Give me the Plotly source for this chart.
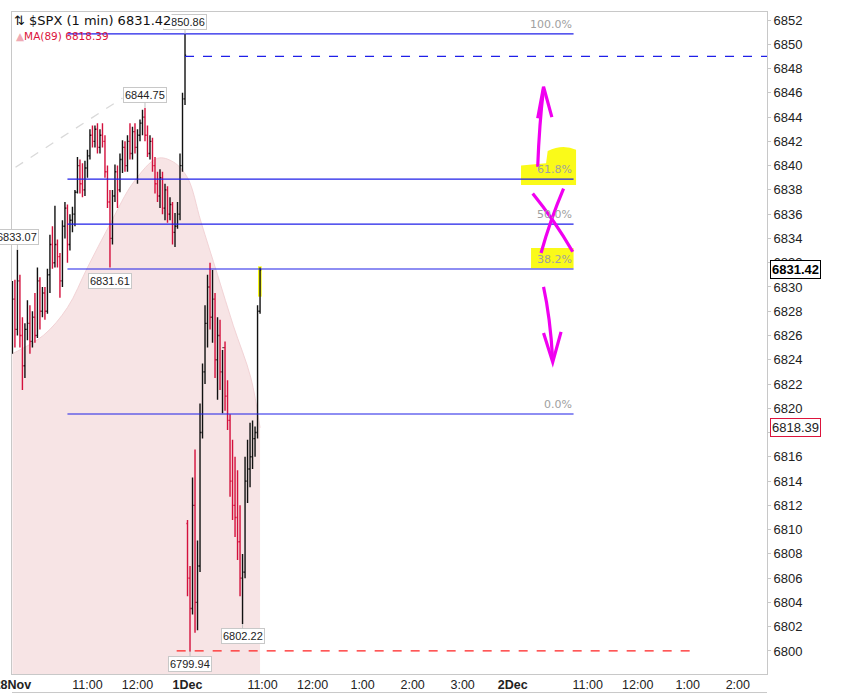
import plotly.graph_objects as go

# ---------------- data ----------------
# x axis = session minutes: 28Nov 9:30 -> 0 (half day to 13:00), 1Dec 9:30 -> 210, 2Dec 9:30 -> 600
nov28_minutes = list(range(0, 210, 3))
nov28_open = [6826.5, 6829, 6826.5, 6830.5, 6826, 6823.5, 6826.5, 6827, 6825.5, 6827.5,
              6826, 6830.5, 6828, 6829.5, 6828, 6831, 6833.5, 6832, 6833.5, 6832.5,
              6830.5, 6835, 6836.5, 6833.5, 6835.5, 6836, 6837.8, 6840, 6838.5, 6838,
              6839.8, 6840.8, 6842.5, 6842, 6843, 6841.5, 6842.5, 6842, 6839.5, 6837,
              6834, 6837.5, 6839.5, 6838, 6840.5, 6841.5, 6840, 6842, 6841, 6842.8,
              6841.5, 6842.5, 6843.5, 6844, 6842.5, 6841, 6842, 6840, 6838.5, 6837.5,
              6839, 6836.5, 6838, 6836, 6836.8, 6834.5, 6835, 6836, 6840, 6845.5]
nov28_high = [6830.5, 6830.6, 6833.07, 6831, 6827.5, 6827, 6828.9, 6828.5, 6828, 6829.5,
              6831.6, 6830.8, 6830, 6830, 6831.5, 6834.3, 6835, 6836.7, 6833.9, 6832.8,
              6835.5, 6837, 6836.8, 6836, 6836.6, 6838, 6840.7, 6840.5, 6840.2, 6840.4,
              6841.3, 6843, 6843.3, 6843.3, 6843.5, 6843, 6843.5, 6842.5, 6840, 6838,
              6838, 6840.1, 6840, 6841, 6842.1, 6842, 6842.5, 6843.5, 6843.2, 6843.5,
              6843, 6843.8, 6844.6, 6844.75, 6843.3, 6842.5, 6842.3, 6840.7, 6839.5, 6839.7,
              6839.5, 6838.5, 6838.3, 6837.4, 6837, 6836.1, 6837, 6841, 6846, 6850.86]
nov28_low = [6824.5, 6825, 6826, 6825, 6821.5, 6822.5, 6825.6, 6824.5, 6825, 6825.4,
             6825.8, 6826.5, 6827.5, 6827.3, 6827.8, 6829.5, 6831.5, 6831.6, 6831.6, 6829.1,
             6830, 6834, 6832, 6833, 6834.5, 6835, 6837.7, 6837.7, 6837.4, 6837.5,
             6839, 6840.5, 6841.5, 6841.5, 6841, 6841, 6841.5, 6839, 6836.5, 6831.61,
             6833.5, 6837, 6836.5, 6837.8, 6839.4, 6839.5, 6839.5, 6840.5, 6840.5, 6841,
             6838.5, 6842, 6842.5, 6842, 6840.7, 6840.5, 6839.5, 6837.7, 6837, 6836.5,
             6836, 6835.5, 6835.3, 6835.5, 6833.5, 6833.3, 6834.8, 6835.5, 6839.5, 6845]
nov28_close = [6829, 6826.5, 6830.5, 6826, 6823.5, 6826.5, 6827, 6825.5, 6827.5, 6826,
               6830.5, 6828, 6829.5, 6828, 6831, 6833.5, 6832, 6833.5, 6832.5, 6830.5,
               6835, 6836.5, 6833.5, 6835.5, 6836, 6837.8, 6840, 6838.5, 6838, 6839.8,
               6840.8, 6842.5, 6842, 6843, 6841.5, 6842.5, 6842, 6839.5, 6837, 6834,
               6837.5, 6839.5, 6838, 6840.5, 6841.5, 6840, 6842, 6841, 6842.8, 6841.5,
               6842.5, 6843.5, 6844, 6842.5, 6841, 6842, 6840, 6838.5, 6837.5, 6839,
               6836.5, 6838, 6836, 6836.8, 6834.5, 6835, 6836, 6840, 6845.5, 6849.1]

dec1_minutes = list(range(210, 300, 3))
dec1_open = [6810.5, 6806, 6803.5, 6812, 6804, 6807, 6818, 6823, 6827, 6830,
             6827.5, 6829, 6824, 6826, 6823, 6825, 6821, 6819, 6814, 6812,
             6811, 6809, 6806, 6806.5, 6814, 6815, 6816, 6817.5, 6818, 6828]
dec1_high = [6810.8, 6807, 6814.3, 6816.6, 6809.1, 6820.4, 6823.7, 6828.5, 6831, 6832.0,
             6831.4, 6829.5, 6827.5, 6827.3, 6824.8, 6825.5, 6822.3, 6819.5, 6817.4, 6816,
             6814.9, 6812, 6808, 6816, 6817.4, 6818.8, 6819, 6818.5, 6828.5, 6831.6]
dec1_low = [6804.5, 6799.94, 6803, 6801.5, 6801.7, 6806.5, 6817.5, 6822, 6825, 6826.5,
            6825.4, 6822.5, 6820.7, 6821.5, 6819.6, 6819.8, 6818.2, 6812.7, 6810.8, 6809.4,
            6807.5, 6804.5, 6802.22, 6806, 6812.2, 6813.5, 6815, 6816, 6817.5, 6827.8]
dec1_close = [6806, 6803.5, 6812, 6804, 6807, 6818, 6823, 6827, 6830, 6827.5,
              6829, 6824, 6826, 6823, 6825, 6821, 6819, 6814, 6812, 6811,
              6809, 6806, 6806.5, 6814, 6815, 6816, 6817.5, 6818, 6828, 6831.42]

# MA(89) read at a few points
ma_minutes = [0, 37, 66, 90, 118, 145, 174, 193, 210, 226, 246, 265, 286, 297]
ma_values = [6824.5, 6826.0, 6828.3, 6831.6, 6835.3, 6838.6, 6840.6, 6840.3, 6839.0,
             6835.4, 6831.0, 6826.8, 6822.5, 6818.39]

# Fibonacci retracement levels
fib_levels = [6850.86, 6838.88, 6835.18, 6831.48, 6819.53]
fib_labels = ["100.0%", "61.8%", "50.0%", "38.2%", "0.0%"]
fib_start, fib_end = 66, 673
prev_close = 6849.0
low_line = 6800.0

# gray dashed trend line
trend_minutes = [-14.4, 132]
trend_values = [6839.06, 6845.57]

# marked highs/lows: (minute, price, text, y-offset px)
point_labels = [(207, 6850.86, "6850.86", -12), (6, 6833.07, "6833.07", -13),
                (159, 6844.75, "6844.75", -13), (117, 6831.61, "6831.61", 14),
                (213, 6799.94, "6799.94", 12), (276, 6802.22, "6802.22", 12)]

x_tickvals = [0, 90, 150, 210, 300, 360, 420, 480, 540, 600, 690, 750, 810, 870]
x_ticktext = ["<b>28Nov</b>", "11:00", "12:00", "<b>1Dec</b>", "11:00", "12:00", "1:00",
              "2:00", "3:00", "<b>2Dec</b>", "11:00", "12:00", "1:00", "2:00"]

last_price = 6831.42
ma_last = 6818.39

X_RANGE = [-0.5, 905]
Y_RANGE = [6798.1, 6852.66]

UP = "#111111"
DOWN = "#d4103c"
BLUE = "#1f1fe8"
MAG = "#f000f0"

fig = go.Figure()

# MA area on the base axes (drawn underneath)
fig.add_trace(go.Scatter(x=ma_minutes, y=ma_values, mode="lines",
                         line=dict(color="#f2d3d6", width=1, shape="spline"),
                         fill="tozeroy", fillcolor="#f7e4e5", hoverinfo="skip"))

# price bars + trend line on overlaid axes (drawn on top)
fig.add_trace(go.Scatter(x=trend_minutes, y=trend_values, mode="lines", xaxis="x2", yaxis="y2",
                         line=dict(color="#d9d9d9", width=1.3, dash="dash"), hoverinfo="skip"))
for mins, o, h, l, c in [(nov28_minutes, nov28_open, nov28_high, nov28_low, nov28_close),
                         (dec1_minutes, dec1_open, dec1_high, dec1_low, dec1_close)]:
    fig.add_trace(go.Ohlc(x=mins, open=o, high=h, low=l, close=c, tickwidth=0.45,
                          xaxis="x2", yaxis="y2",
                          increasing=dict(line=dict(color=UP, width=1.4)),
                          decreasing=dict(line=dict(color=DOWN, width=1.4))))

shapes = []
# yellow highlights (below)
shapes.append(dict(type="path", xref="x", yref="y", layer="below", line=dict(width=0),
                   fillcolor="rgba(250,250,0,0.9)",
                   path="M 610 6838.4 L 676 6838.4 L 676 6841.3 Q 660 6841.8 642 6841.2 L 640 6840.2 L 610 6840.0 Z"))
shapes.append(dict(type="rect", xref="x", yref="y", layer="below", line=dict(width=0),
                   fillcolor="rgba(250,250,0,0.9)", x0=622, x1=673, y0=6831.55, y1=6833.2))
shapes.append(dict(type="rect", xref="x", yref="y", layer="below", line=dict(width=0),
                   fillcolor="rgba(250,250,0,0.9)", x0=294.5, x1=299, y0=6829.2, y1=6831.7))
# fib lines
for lv in fib_levels:
    shapes.append(dict(type="line", xref="x", yref="y", x0=fib_start, x1=fib_end, y0=lv, y1=lv,
                       line=dict(color=BLUE, width=1.2)))
shapes.append(dict(type="line", xref="x", yref="y", x0=207, x1=905, y0=prev_close, y1=prev_close,
                   line=dict(color=BLUE, width=1.2, dash="dash")))
shapes.append(dict(type="line", xref="x", yref="y", x0=197, x1=823, y0=low_line, y1=low_line,
                   line=dict(color="#ff2020", width=1.2, dash="dash")))
# magenta hand drawings
mag = dict(color=MAG, width=3.2)
shapes += [
    dict(type="path", xref="x", yref="y", line=mag, path="M 630 6839.9 Q 632 6843.5 637 6846.3"),
    dict(type="path", xref="x", yref="y", line=mag, path="M 630 6843.9 L 637 6846.5 L 647 6844.0"),
    dict(type="path", xref="x", yref="y", line=mag, path="M 624 6837.7 Q 650 6835.5 672 6832.9"),
    dict(type="path", xref="x", yref="y", line=mag, path="M 661 6838.1 Q 645 6835.5 634 6832.8"),
    dict(type="path", xref="x", yref="y", line=mag, path="M 637 6830.0 Q 645 6827.5 648 6824.0"),
    dict(type="path", xref="x", yref="y", line=mag, path="M 637 6826.2 L 648 6823.8 L 658 6826.3"),
    dict(type="line", xref="paper", yref="paper", x0=0, x1=1, y0=-0.028, y1=-0.028,
         line=dict(color="#c8c8c8", width=1)),
]

ann = []
for m, p, t, off in point_labels:
    ann.append(dict(x=m, y=p, xref="x", yref="y", text=t, showarrow=True, arrowhead=0,
                    arrowcolor="#c0c0c0", arrowwidth=1, ax=0, ay=off,
                    bgcolor="white", bordercolor="#c8c8c8", borderwidth=1, borderpad=1,
                    font=dict(family="Liberation Sans", size=11, color="#222")))
for lv, t in zip(fib_levels, fib_labels):
    ann.append(dict(x=fib_end, y=lv, xref="x", yref="y", text=t, showarrow=False,
                    xanchor="right", yanchor="bottom", yshift=1,
                    font=dict(family="DejaVu Sans", size=11, color="#a0a0a0")))
# header texts
ann.append(dict(x=0, y=1, xref="paper", yref="paper", xanchor="left", yanchor="top", xshift=1, yshift=0,
                text="⇅ $SPX (1 min) 6831.42", showarrow=False, bgcolor="white", borderpad=0,
                font=dict(family="DejaVu Sans", size=13, color="#111")))
ann.append(dict(x=0, y=1, xref="paper", yref="paper", xanchor="left", yanchor="top", xshift=2, yshift=-16,
                text="<span style='color:#efa9b3'>▲</span>MA(89) 6818.39", showarrow=False,
                font=dict(family="DejaVu Sans", size=10.5, color="#dc143c")))
# price tags on the right axis
ann.append(dict(x=1, y=last_price, xref="paper", yref="y", xanchor="left", xshift=3, showarrow=False,
                text="<b>6831.42</b>", bgcolor="white", bordercolor="#000", borderwidth=1, borderpad=1,
                font=dict(family="Liberation Sans", size=13, color="#000")))
ann.append(dict(x=1, y=ma_last, xref="paper", yref="y", xanchor="left", xshift=3, showarrow=False,
                text="6818.39", bgcolor="white", bordercolor="#dc143c", borderwidth=1, borderpad=1,
                font=dict(family="Liberation Sans", size=13, color="#222")))

fig.update_layout(
    width=864, height=694, margin=dict(l=12, r=97, t=12, b=20),
    plot_bgcolor="white", paper_bgcolor="white", showlegend=False,
    shapes=shapes, annotations=ann,
    xaxis=dict(range=X_RANGE, rangeslider=dict(visible=False), tickmode="array",
               tickvals=x_tickvals, ticktext=x_ticktext, showgrid=False, zeroline=False,
               showline=True, linecolor="#c8c8c8", mirror=True, ticks="",
               ticklabelstandoff=-1, automargin=False, ticklabeloverflow="allow",
               tickfont=dict(family="Liberation Sans", size=12.5, color="#222")),
    yaxis=dict(side="right", range=Y_RANGE, tick0=6800, dtick=2, showgrid=False,
               zeroline=False, showline=True, linecolor="#c8c8c8", mirror=True, ticks="outside",
               ticklen=3, tickcolor="#c8c8c8", automargin=False,
               tickfont=dict(family="Liberation Sans", size=13, color="#222")),
    xaxis2=dict(overlaying="x", range=X_RANGE, visible=False, rangeslider=dict(visible=False),
                automargin=False),
    yaxis2=dict(overlaying="y", range=Y_RANGE, visible=False, automargin=False),
)

fig.write_html("out.html", config={"displayModeBar": False},
               post_script="document.body.style.margin='0';")
